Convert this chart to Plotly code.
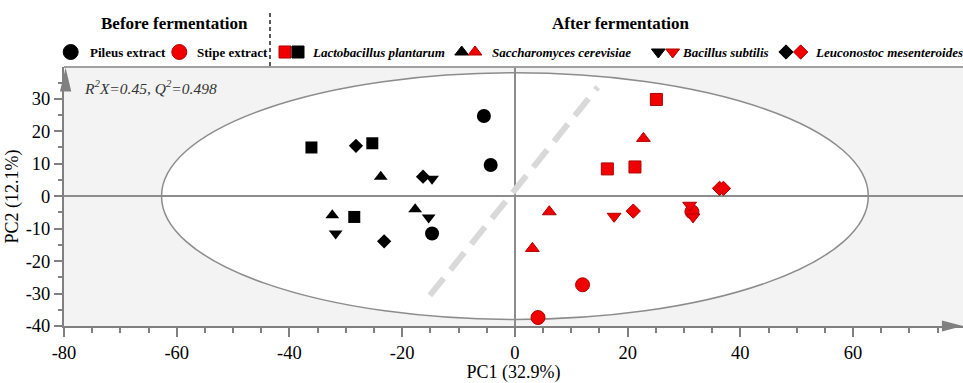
import plotly.graph_objects as go

# ---------------- data (PC1, PC2 scores) ----------------
pileus_x = [-5.5, -4.3, -14.7]
pileus_y = [24.7, 9.6, -11.5]
stipe_x = [4.1, 12.0, 31.4]
stipe_y = [-37.4, -27.3, -4.8]

lp_black_x = [-36.1, -25.3, -28.5]
lp_black_y = [15.0, 16.3, -6.4]
lp_red_x = [25.1, 16.4, 21.3]
lp_red_y = [29.8, 8.4, 9.0]

sc_black_x = [-23.8, -32.4, -17.7]
sc_black_y = [6.0, -5.9, -4.0]
sc_red_x = [22.8, 6.1, 3.1]
sc_red_y = [17.8, -4.8, -16.1]

bs_black_x = [-14.7, -15.3, -31.8]
bs_black_y = [5.4, -6.6, -11.5]
bs_red_x = [17.6, 31.0, 31.6]
bs_red_y = [-6.2, -2.8, -6.4]

lm_black_x = [-28.2, -16.3, -23.2]
lm_black_y = [15.5, 6.0, -13.9]
lm_red_x = [36.3, 37.0, 21.0]
lm_red_y = [2.4, 2.4, -4.6]

# Hotelling ellipse semi-axes and discriminating diagonal
ellipse_a = 62.7
ellipse_b = 38.0
diag_x = [-15.1, 14.7]
diag_y = [-30.6, 33.6]

x_tickvals = [-80, -60, -40, -20, 0, 20, 40, 60]
y_tickvals = [-40, -30, -20, -10, 0, 10, 20, 30]

legend_labels = ["Pileus extract", "Stipe extract", "Lactobacillus plantarum",
                 "Saccharomyces cerevisiae", "Bacillus subtilis", "Leuconostoc mesenteroides"]

X_RANGE = [-80, 79.5]
Y_RANGE = [-40, 39.8]

FONT = "Liberation Serif, Times New Roman, serif"
GRAY = "#808080"
RED = "#f00000"
RED_EDGE = "#b00000"

# layout geometry (pixels)
H, B, T_PLOT = 383, 57, 67
AREA = H - B                      # height of paper area (top margin 0)
MAIN_TOP = (AREA - T_PLOT) / AREA  # domain top of the main plot

fig = go.Figure()

# dashed diagonal
fig.add_trace(go.Scatter(x=diag_x, y=diag_y, mode="lines",
                         line=dict(color="#d9d9d9", width=6, dash="22px,11px"),
                         hoverinfo="skip", showlegend=False))

def add(xs, ys, symbol, size, red):
    fig.add_trace(go.Scatter(
        x=xs, y=ys, mode="markers", showlegend=False,
        marker=dict(symbol=symbol, size=size,
                    color=RED if red else "black",
                    line=dict(color=RED_EDGE if red else "black", width=1 if red else 0))))

add(pileus_x, pileus_y, "circle", 14, False)
add(lp_black_x, lp_black_y, "square", 12, False)
add(sc_black_x, sc_black_y, "triangle-up", 12, False)
add(bs_black_x, bs_black_y, "triangle-down", 12, False)
add(lm_black_x, lm_black_y, "diamond", 11, False)
add(stipe_x, stipe_y, "circle", 14, True)
add(lp_red_x, lp_red_y, "square", 12, True)
add(sc_red_x, sc_red_y, "triangle-up", 12, True)
add(bs_red_x, bs_red_y, "triangle-down", 12, True)
add(lm_red_x, lm_red_y, "diamond", 11, True)

# ---------------- custom legend: a header subplot in pixel units ----------------
leg_row_y = 52
title_row_y = 23
leg_marker_x = [70.7, 179.3, 285, 298, 461.7, 475, 658.3, 672.7, 786, 800.7]
leg_marker_sym = ["circle", "circle", "square", "square", "triangle-up", "triangle-up",
                  "triangle-down", "triangle-down", "diamond", "diamond"]
leg_marker_red = [False, True, True, False, False, True, False, True, False, True]
leg_marker_size = [15, 15, 12, 12, 12, 12, 12, 12, 11, 11]
leg_text_x = [88, 195, 310, 490, 680, 813]
italic = [False, False, True, True, True, True]

fig.add_trace(go.Scatter(
    x=leg_marker_x, y=[leg_row_y] * len(leg_marker_x), xaxis="x2", yaxis="y2",
    mode="markers", cliponaxis=False, showlegend=False, hoverinfo="skip",
    marker=dict(symbol=leg_marker_sym, size=leg_marker_size, opacity=1,
                color=[RED if r else "black" for r in leg_marker_red],
                line=dict(color=[RED_EDGE if r else "black" for r in leg_marker_red], width=1))))

annotations = []
for tx, lab, it in zip(leg_text_x, legend_labels, italic):
    txt = f"<b><i>{lab}</i></b>" if it else f"<b>{lab}</b>"
    annotations.append(dict(x=tx, y=leg_row_y, xref="x2", yref="y2", text=txt,
                            showarrow=False, xanchor="left", yanchor="middle",
                            font=dict(family=FONT, size=13, color="black")))
annotations.append(dict(x=174, y=title_row_y, xref="x2", yref="y2",
                        text="<b>Before fermentation</b>", showarrow=False,
                        xanchor="center", yanchor="middle",
                        font=dict(family=FONT, size=17, color="black")))
annotations.append(dict(x=621, y=title_row_y, xref="x2", yref="y2",
                        text="<b>After fermentation</b>", showarrow=False,
                        xanchor="center", yanchor="middle",
                        font=dict(family=FONT, size=17, color="black")))
annotations.append(dict(x=0.02, y=0.9228, xref="x domain", yref="y domain",
                        text="<i>R<sup>2</sup>X=0.45, Q<sup>2</sup>=0.498</i>",
                        showarrow=False, xanchor="left", yanchor="middle",
                        font=dict(family=FONT, size=15.5, color="#333333")))

shapes = [
    # light-grey plotting background of the score plot
    dict(type="rect", xref="x domain", yref="y domain", x0=0, x1=1, y0=0, y1=1,
         fillcolor="#f3f3f3", line=dict(width=0), layer="below"),
    # ellipse
    dict(type="circle", xref="x", yref="y", x0=-ellipse_a, x1=ellipse_a,
         y0=-ellipse_b, y1=ellipse_b, fillcolor="white",
         line=dict(color="#8c8c8c", width=1.5), layer="below"),
    # top border of the plot
    dict(type="line", xref="x domain", yref="y domain", x0=0, x1=1, y0=1, y1=1,
         line=dict(color="#a0a0a0", width=2)),
    # separator between before/after
    dict(type="line", xref="x2", yref="y2", x0=270, x1=270, y0=13, y1=T_PLOT,
         line=dict(color="black", width=1.3, dash="4px,3px")),
    # y-axis arrowhead
    dict(type="path", xref="x domain", yref="y domain",
         path="M -0.0045 0.905 L 0.0018 0.997 L 0.0081 0.905 Z",
         fillcolor=GRAY, line=dict(width=0)),
    # x-axis arrowhead
    dict(type="path", xref="x domain", yref="y domain",
         path="M 0.9766 0.0212 L 1.0 0 L 0.9766 -0.0212 Z",
         fillcolor=GRAY, line=dict(width=0)),
]

fig.update_layout(
    width=963, height=H,
    margin=dict(l=64, r=0, t=0, b=B),
    paper_bgcolor="white", plot_bgcolor="white",
    font=dict(family=FONT, color="black"),
    showlegend=False,
    annotations=annotations,
    shapes=shapes,
    xaxis=dict(range=X_RANGE, domain=[0, 1], anchor="y",
               tickmode="array", tickvals=x_tickvals,
               ticktext=[str(v) for v in x_tickvals], showgrid=False,
               zeroline=True, zerolinecolor="#8c8c8c", zerolinewidth=1.5,
               showline=True, linecolor=GRAY, linewidth=2,
               ticks="outside", ticklen=9, tickcolor=GRAY, tickwidth=1.5,
               minor=dict(dtick=5, tick0=-80, ticks="outside", ticklen=5,
                          tickcolor=GRAY, tickwidth=1.5, showgrid=False),
               tickfont=dict(family=FONT, size=18.5, color="black"),
               title=dict(text="PC1 (32.9%)", standoff=6,
                          font=dict(family=FONT, size=18, color="black"))),
    yaxis=dict(range=Y_RANGE, domain=[0, MAIN_TOP], anchor="x",
               tickmode="array", tickvals=y_tickvals,
               ticktext=[str(v) for v in y_tickvals], showgrid=False,
               zeroline=True, zerolinecolor="#8c8c8c", zerolinewidth=1.5,
               showline=True, linecolor=GRAY, linewidth=2,
               ticks="outside", ticklen=8, tickcolor=GRAY, tickwidth=1.5,
               minor=dict(dtick=5, tick0=-40, ticks="outside", ticklen=4,
                          tickcolor=GRAY, tickwidth=1.5, showgrid=False),
               tickfont=dict(family=FONT, size=18.5, color="black"),
               title=dict(text="PC2 (12.1%)", standoff=2,
                          font=dict(family=FONT, size=18, color="black"))),
    xaxis2=dict(range=[64, 963], domain=[0, 1], anchor="y2", visible=False,
                fixedrange=True, showgrid=False, zeroline=False),
    yaxis2=dict(range=[T_PLOT, 0], domain=[MAIN_TOP, 1], anchor="x2", visible=False,
                fixedrange=True, showgrid=False, zeroline=False),
)

fig.write_html("out.html")
